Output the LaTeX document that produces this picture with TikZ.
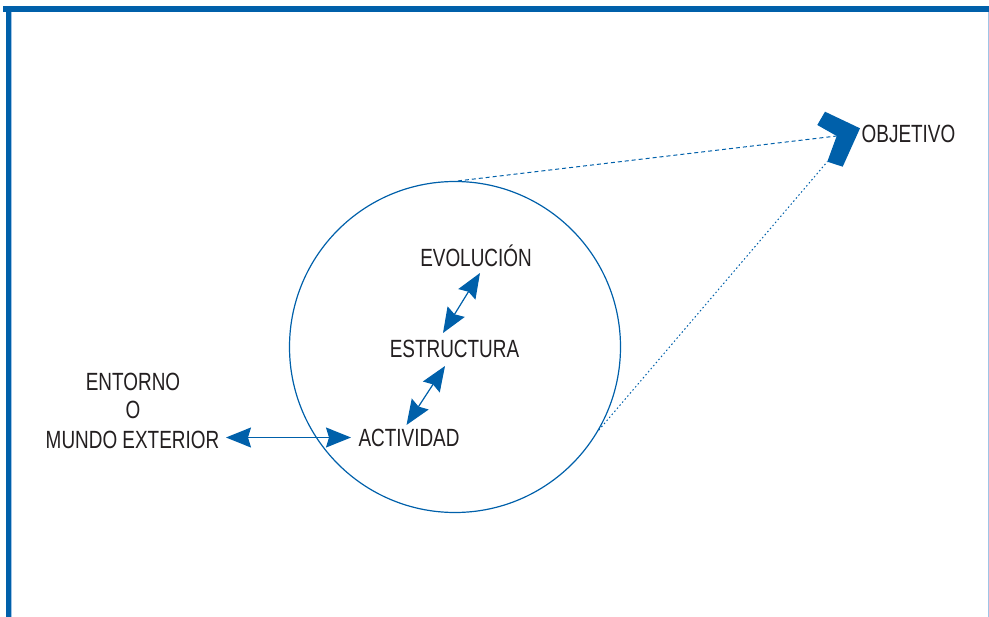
\documentclass[tikz,border=0pt]{standalone}
\usepackage{fontspec}
\setmainfont[FakeStretch=0.76]{Liberation Sans}
\usetikzlibrary{arrows.meta}
\definecolor{myblue}{RGB}{0,96,170}
\definecolor{lightblue}{RGB}{160,196,230}
\definecolor{txt}{RGB}{35,31,32}
\tikzset{
  lbl/.style={inner sep=0pt, anchor=base, text=txt, font=\fontsize{25}{29}\selectfont},
  dbl/.style={draw=myblue, line width=1.2bp, {Stealth[length=25bp,width=20bp,inset=3bp]}-{Stealth[length=25bp,width=20bp,inset=3bp]}, fill=myblue},
  ring/.style={circle, draw=myblue, line width=1.2bp, minimum size=331bp, inner sep=0pt},
  dashln/.style={draw=myblue, line width=1bp, dash pattern=on 4bp off 3bp},
  dotln/.style={draw=myblue, line width=1bp, dash pattern=on 1.5bp off 2.5bp},
}
\begin{document}
\begin{tikzpicture}[x=1bp,y=-1bp]
\useasboundingbox (0,0) rectangle (989,617);
% frame
\fill[myblue] (3,6) rectangle (989,12);
\fill[myblue] (6,6) rectangle (11.5,617);
\draw[lightblue, line width=1.2bp] (988.3,12) -- (988.3,617);
\draw[lightblue, line width=0.8bp] (11.8,12) -- (11.8,617);
% circle
\node[ring] (circ) at (455,347) {};
% labels
\node[lbl] (evo) at (476,267) {EVOLUCIÓN};
\node[lbl] (est) at (454.5,357) {ESTRUCTURA};
\node[lbl] (act) at (409,446) {ACTIVIDAD};
\node[lbl] (obj) at (908.5,143) {OBJETIVO};
\node[lbl] (ent1) at (133,390) {ENTORNO};
\node[lbl] (ent2) at (133,418) {O};
\node[lbl] (ent3) at (132.5,448) {MUNDO EXTERIOR};
% objective marker
\fill[myblue] (825,111.7) coordinate (m1) -- (860,128.3) -- (842.7,166.7) -- (827.3,161.7) coordinate (m4) -- (836.7,136) coordinate (m5) -- (817.3,125) -- cycle;
% arrows
\coordinate (h1) at (226,437.5);
\coordinate (h2) at (351,437.5);
\draw[dbl] (h1) -- (h2);
\coordinate (u1) at (443,333);
\coordinate (u2) at (480,273);
\draw[dbl] (u1) -- (u2);
\coordinate (l1) at (406.5,425);
\coordinate (l2) at (445,366);
\draw[dbl] (l1) -- (l2);
% sight lines
\draw[dashln] (circ.89) -- (m5);
\draw[dotln] (circ.-30.5) -- (m4);
\end{tikzpicture}
\end{document}
